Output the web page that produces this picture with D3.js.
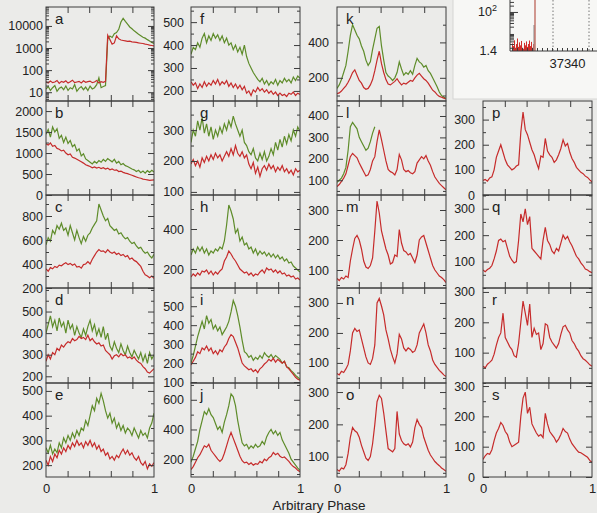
<!DOCTYPE html>
<html>
<head>
<meta charset="utf-8">
<script src="https://cdn.jsdelivr.net/npm/d3@7"></script>
<style>
  html, body { margin: 0; padding: 0; background: #ebebe9; }
  svg { display: block; font-family: "Liberation Sans", Arial, Helvetica, sans-serif; }
</style>
</head>
<body>
<svg id="chart" width="597" height="513"></svg>
<script>
/* global d3 */

// Phase histograms, 50 samples over [0, 1]. Green / red series per panel.
const N_BINS = 50;

const aGreen = [14,18,12,16,20,11,15,17,13,19,12,16,14,22,11,15,18,13,17,12,19,14,16,22,45,16,18,20,2500,3500,3000,4500,5000,7000,15000,22000,16000,12000,9000,7500,6000,5000,4200,3600,3100,2800,2400,2100,1800,1600];
const aRed = [30,26,32,27,29,34,25,31,28,33,26,30,35,27,29,31,26,33,28,30,32,27,29,34,26,30,28,31,3800,2400,1500,1700,3600,2600,2300,2200,2100,2000,2050,1900,1850,1800,1700,1650,1600,1500,1450,1350,1300,1250];

const bGreen = [1450,1560,1380,1620,1500,1580,1350,1420,1250,1380,1230,1300,1150,1200,1050,1100,930,980,860,820,780,740,800,760,820,780,850,800,870,830,790,850,760,800,720,750,700,680,650,620,600,560,590,530,570,520,580,540,590,550];
const bRed = [1220,1190,1240,1160,1180,1110,1090,1050,1070,1000,960,980,900,880,850,820,790,760,720,700,680,650,670,640,660,630,650,620,640,600,620,590,600,560,570,540,520,510,490,470,450,430,410,400,380,370,360,350,355,360];

const cGreen = [560,620,590,680,650,720,690,740,680,700,640,720,660,600,680,620,570,630,590,640,660,700,730,760,900,850,800,760,780,720,700,680,690,650,660,630,610,620,590,570,580,550,530,540,510,490,500,470,450,480];
const cRed = [360,340,370,360,380,370,390,385,400,410,395,405,390,400,375,380,365,395,400,420,400,440,470,500,520,505,510,495,520,500,490,500,480,490,470,480,460,470,440,450,430,420,400,380,340,310,300,285,300,280];

const dGreen = [400,440,480,430,460,410,470,430,450,400,460,420,440,390,430,400,380,420,390,430,460,410,440,390,420,380,430,370,400,340,320,360,330,310,350,320,300,340,310,290,320,300,280,310,270,300,260,310,280,300];
const dRed = [270,300,280,310,300,330,320,345,335,350,360,355,375,365,370,385,375,380,370,390,365,375,360,350,355,340,345,320,310,300,280,295,300,290,305,295,300,285,290,280,290,275,265,260,245,235,220,215,225,235];

const eGreen = [270,250,280,245,265,250,290,270,310,290,320,300,330,310,340,320,350,340,380,360,400,440,420,470,450,490,460,420,390,410,370,390,350,370,340,360,330,350,340,320,350,330,310,340,320,330,310,350,370,410];
const eRed = [220,200,235,215,245,230,260,245,270,255,280,265,290,275,300,280,290,270,295,280,300,275,290,265,280,255,265,240,250,225,235,220,240,230,250,265,245,260,240,250,230,220,235,210,200,215,185,205,195,210];

const fGreen = [360,390,380,410,390,430,450,410,440,420,450,430,445,420,440,410,430,400,410,380,400,370,390,360,400,350,320,300,280,265,250,240,255,230,245,225,240,230,250,225,245,235,255,240,250,235,260,245,265,255];
const fRed = [240,225,235,210,230,215,240,220,235,225,245,230,250,225,240,230,245,220,235,215,230,210,225,205,220,190,200,180,205,195,215,200,210,195,205,190,200,185,195,180,190,180,185,175,190,185,195,180,190,185];

const gGreen = [260,300,280,330,300,340,290,320,280,310,270,300,280,310,290,320,300,330,310,345,320,300,280,300,260,250,230,220,240,210,200,225,205,230,200,215,240,220,260,235,270,245,280,255,285,265,300,280,310,295];
const gRed = [190,205,185,200,180,210,195,215,200,220,205,225,210,220,200,215,230,215,240,220,250,225,215,230,210,220,190,175,195,160,180,150,175,185,170,190,175,185,165,180,170,185,165,175,160,170,155,175,165,170];

const hGreen = [270,300,280,310,290,310,280,300,270,290,280,300,290,310,300,340,420,520,490,450,380,400,340,360,320,330,300,310,280,300,270,290,275,285,265,280,260,275,255,270,250,260,240,250,230,235,215,205,195,185];
const hRed = [160,175,165,180,170,190,185,195,175,190,170,185,175,190,200,240,260,290,275,255,240,220,200,190,180,185,170,180,165,175,170,185,195,180,205,195,200,185,195,180,190,175,180,165,170,160,165,150,155,145];

const iGreen = [200,240,290,340,380,420,380,450,410,430,380,400,370,390,350,370,390,420,470,530,500,450,390,320,260,250,230,240,215,230,220,240,225,255,240,230,245,225,240,230,220,200,210,180,175,160,150,135,125,115];
const iRed = [190,210,230,260,250,280,270,290,265,280,250,265,245,270,260,285,300,330,350,340,310,280,240,200,185,175,165,170,155,165,150,170,180,195,205,220,210,225,205,220,210,200,210,180,170,155,140,125,115,110];

const jGreen = [180,220,270,320,400,460,520,500,540,500,480,440,400,420,380,450,500,560,640,620,560,460,380,310,290,300,270,290,275,300,280,290,320,300,350,380,400,370,390,360,380,330,300,270,240,200,180,160,140,125];
const jRed = [130,150,180,210,230,260,290,280,300,260,240,220,200,185,200,240,290,340,380,340,300,260,220,190,175,180,165,175,160,170,165,185,175,200,190,210,220,245,230,240,220,210,215,200,185,165,150,140,125,115];

const kGreen = [140,160,190,230,270,350,440,500,470,440,420,380,350,300,270,290,360,420,480,490,380,300,230,210,200,185,200,230,290,250,215,230,220,240,220,270,310,290,280,260,270,240,225,200,175,150,120,100,90,85];
const kRed = [110,115,125,140,155,175,200,230,245,215,185,170,145,135,140,160,190,240,300,350,280,230,190,165,160,170,180,195,175,160,170,165,175,185,180,200,215,225,210,195,185,170,150,130,120,105,95,90,85,80];

// the green sweep of panel l stops at about a third of the phase
const lGreen = [90,100,110,130,160,240,350,370,355,340,300,280,260,240,250,280,320,350];
const lRed = [70,80,95,110,130,170,210,225,215,205,180,160,140,120,125,150,190,210,280,335,290,240,190,150,140,135,125,150,220,195,150,140,145,135,130,140,180,195,210,200,215,190,170,140,115,100,85,75,65,55];

const mRed = [72,65,75,70,80,75,130,170,205,215,200,170,130,110,105,115,140,230,330,290,230,200,170,150,120,125,150,145,235,190,165,160,150,155,140,125,150,200,210,215,190,165,140,115,100,90,80,75,68,58];
const nRed = [65,60,72,68,80,95,140,200,215,205,210,180,150,120,100,95,115,160,300,315,290,260,210,180,145,120,100,130,195,180,150,140,150,145,135,140,160,200,215,230,200,160,140,110,95,85,75,68,60,55];
const oRed = [60,55,65,62,75,110,160,190,180,175,160,135,115,95,88,100,140,200,270,290,280,235,180,125,120,115,125,240,170,150,140,135,140,130,145,190,215,200,190,160,140,120,105,95,85,78,72,65,60,55];
const pRed = [58,62,55,68,72,100,150,175,200,170,140,120,110,100,105,115,120,250,330,260,240,210,180,160,130,105,155,150,225,175,160,150,130,140,160,185,220,195,205,170,145,130,110,100,90,85,75,70,60,52];
const qRed = [68,62,70,75,85,110,140,180,185,175,180,150,120,105,95,100,180,280,250,300,240,270,150,140,130,120,110,180,230,180,165,140,130,150,140,170,200,185,195,175,160,140,120,110,95,85,72,68,62,58];
const rRed = [55,50,62,68,75,95,125,150,165,230,150,135,120,110,90,85,130,200,270,230,190,260,150,180,160,165,110,130,195,190,150,135,125,115,130,160,185,190,175,165,140,130,115,105,90,80,75,68,60,55];
const sRed = [58,70,78,75,90,120,145,160,180,170,150,140,115,100,105,110,115,200,260,280,210,230,175,160,145,135,140,130,210,175,150,140,130,115,125,140,160,150,145,125,110,100,90,82,80,75,70,65,55,48];

// y tick labels per panel
const aTicks = [10, 100, 1000, 10000];
const bTicks = [0, 500, 1000, 1500, 2000];
const cTicks = [200, 400, 600, 800];
const dTicks = [200, 300, 400, 500];
const eTicks = [200, 300, 400, 500];
const fTicks = [200, 300, 400, 500];
const gTicks = [100, 200, 300];
const hTicks = [200, 400];
const iTicks = [100, 200, 300, 400, 500];
const jTicks = [200, 400, 600];
const kTicks = [200, 400];
const lTicks = [100, 200, 300, 400];
const mTicks = [100, 200, 300];
const nTicks = [100, 200, 300];
const oTicks = [100, 200, 300];
const pTicks = [0, 100, 200, 300];
const qTicks = [100, 200, 300];
const rTicks = [100, 200, 300];
const sTicks = [0, 100, 200, 300];

const phaseTicks = [0.2, 0.4, 0.6, 0.8];
const phaseLabels = [0, 1];

// inset: counts near channel 37340
const insetChannels = [37230,37232,37234,37236,37238,37240,37242,37244,37246,37248,37250,37252,37254,37256,37258,37260,37262,37264,37266,37268,37270,37272];
const insetCounts = [3.2,2.4,4.5,2.0,3.0,5.5,2.2,3.6,2.6,4.2,2.0,1.8,3.4,2.6,4.0,2.2,3.0,4.4,2.4,3.8,2.0,3.0];
const insetSpikes = [
  { ch: 37274, v: 24, color: "#9a9a9a" },
  { ch: 37276, v: 20000, color: "#b8584c" },
];
const insetMarkers = [37312, 37384];
const insetYTicks = [1.4, 100];

// ---- layout ----
const colX = [[46, 154], [191, 300], [337, 446], [483, 592]];
const rowY = [[7, 101], [101, 195], [195, 288], [288, 383], [383, 477]];
const labelPad = [3, 7, 8, 8];

const GREEN = "#5e8c2a";
const RED = "#c62b2b";
const INK = "#222";
const FRAME = "#3c3c3c";
const TICK_FONT = 12.5;

const panels = [
  { id: "a", col: 0, row: 0, green: aGreen, red: aRed, domain: [4, 72000], log: true, ticks: aTicks },
  { id: "b", col: 0, row: 1, green: bGreen, red: bRed, domain: [0, 2240], ticks: bTicks },
  { id: "c", col: 0, row: 2, green: cGreen, red: cRed, domain: [200, 975], ticks: cTicks },
  { id: "d", col: 0, row: 3, green: dGreen, red: dRed, domain: [169, 609], ticks: dTicks },
  { id: "e", col: 0, row: 4, green: eGreen, red: eRed, domain: [152, 532], ticks: eTicks },
  { id: "f", col: 1, row: 0, green: fGreen, red: fRed, domain: [156, 566], ticks: fTicks },
  { id: "g", col: 1, row: 1, green: gGreen, red: gRed, domain: [90, 394], ticks: gTicks },
  { id: "h", col: 1, row: 2, green: hGreen, red: hRed, domain: [105, 570], ticks: hTicks },
  { id: "i", col: 1, row: 3, green: iGreen, red: iRed, domain: [95, 596], ticks: iTicks },
  { id: "j", col: 1, row: 4, green: jGreen, red: jRed, domain: [80, 713], ticks: jTicks },
  { id: "k", col: 2, row: 0, green: kGreen, red: kRed, domain: [69, 600], ticks: kTicks },
  { id: "l", col: 2, row: 1, green: lGreen, red: lRed, domain: [31, 470], ticks: lTicks },
  { id: "m", col: 2, row: 2, red: mRed, domain: [40, 350], ticks: mTicks },
  { id: "n", col: 2, row: 3, red: nRed, domain: [33, 350], ticks: nTicks },
  { id: "o", col: 2, row: 4, red: oRed, domain: [37, 328], ticks: oTicks },
  { id: "p", col: 3, row: 1, red: pRed, domain: [0, 374], ticks: pTicks },
  { id: "q", col: 3, row: 2, red: qRed, domain: [0, 352], ticks: qTicks },
  { id: "r", col: 3, row: 3, red: rRed, domain: [0, 313], ticks: rTicks },
  { id: "s", col: 3, row: 4, red: sRed, domain: [0, 310], ticks: sTicks },
];

const svg = d3.select("#chart");
const defs = svg.append("defs");

function minorTicks(p) {
  if (p.log) {
    const out = [];
    for (let e = 0; e <= 4; e++) {
      for (let m = 2; m <= 9; m++) {
        const v = m * 10 ** e;
        if (v > p.domain[0] && v < p.domain[1]) out.push(v);
      }
    }
    return out;
  }
  const step = (p.ticks[1] - p.ticks[0]) / 2;
  const out = [];
  const start = Math.ceil(p.domain[0] / step) * step;
  for (let v = start; v < p.domain[1]; v += step) {
    if (!p.ticks.includes(v)) out.push(v);
  }
  return out;
}

// sample i sits at phase i / (N - 1)
function toPoints(arr) {
  return arr.map((v, i) => [i / (N_BINS - 1), v]);
}

function styleAxis(g) {
  g.select(".domain").remove();
  g.selectAll(".tick line").attr("stroke", FRAME).attr("stroke-width", 1);
  g.selectAll(".tick text").attr("fill", INK).attr("font-size", TICK_FONT);
}

panels.forEach((p) => {
  const [x0, x1] = colX[p.col];
  const [y0, y1] = rowY[p.row];
  const x = d3.scaleLinear().domain([0, 1]).range([x0, x1]);
  const y = (p.log ? d3.scaleLog() : d3.scaleLinear()).domain(p.domain).range([y1, y0]);

  const g = svg.append("g").attr("class", "panel-" + p.id);

  defs.append("clipPath").attr("id", "clip-" + p.id)
    .append("rect").attr("x", x0).attr("y", y0).attr("width", x1 - x0).attr("height", y1 - y0);

  const line = d3.line()
    .x((d) => x(d[0]))
    .y((d) => y(Math.max(d[1], p.domain[0])));

  const plot = g.append("g").attr("clip-path", `url(#clip-${p.id})`);
  if (p.green) {
    plot.append("path").attr("d", line(toPoints(p.green)))
      .attr("fill", "none").attr("stroke", GREEN).attr("stroke-width", 1.2)
      .attr("stroke-linejoin", "miter");
  }
  plot.append("path").attr("d", line(toPoints(p.red)))
    .attr("fill", "none").attr("stroke", RED).attr("stroke-width", 1.2)
    .attr("stroke-linejoin", "miter");

  // y axes, ticks inward
  const fmt = d3.format("d");
  g.append("g").attr("transform", `translate(${x0},0)`)
    .call(d3.axisLeft(y).tickValues(p.ticks).tickFormat(fmt).tickSizeInner(-6).tickSizeOuter(0).tickPadding(labelPad[p.col]))
    .call(styleAxis);
  g.append("g").attr("transform", `translate(${x0},0)`)
    .call(d3.axisLeft(y).tickValues(minorTicks(p)).tickFormat("").tickSizeInner(-3).tickSizeOuter(0))
    .call(styleAxis);
  g.append("g").attr("transform", `translate(${x1},0)`)
    .call(d3.axisRight(y).tickValues(p.ticks).tickFormat("").tickSizeInner(-6).tickSizeOuter(0))
    .call(styleAxis);
  g.append("g").attr("transform", `translate(${x1},0)`)
    .call(d3.axisRight(y).tickValues(minorTicks(p)).tickFormat("").tickSizeInner(-3).tickSizeOuter(0))
    .call(styleAxis);

  // phase ticks on top and bottom edges
  g.append("g").attr("transform", `translate(0,${y0})`)
    .call(d3.axisTop(x).tickValues(phaseTicks).tickFormat("").tickSizeInner(-6).tickSizeOuter(0))
    .call(styleAxis);
  g.append("g").attr("transform", `translate(0,${y1})`)
    .call(d3.axisBottom(x).tickValues(phaseTicks).tickFormat("").tickSizeInner(-6).tickSizeOuter(0))
    .call(styleAxis);

  if (p.row === 4) {
    g.append("g").attr("transform", `translate(0,${y1})`)
      .call(d3.axisBottom(x).tickValues(phaseLabels).tickFormat(d3.format("d")).tickSize(0).tickPadding(7))
      .call(styleAxis)
      .call((ax) => ax.selectAll(".tick text").attr("font-size", 13));
  }

  g.append("rect")
    .attr("x", x0).attr("y", y0).attr("width", x1 - x0).attr("height", y1 - y0)
    .attr("fill", "none").attr("stroke", FRAME).attr("stroke-width", 1);

  g.append("text")
    .attr("x", x0 + 9).attr("y", y0 + 17)
    .attr("font-size", 15).attr("fill", INK)
    .text(p.id);
});

svg.append("text")
  .attr("x", 319).attr("y", 510)
  .attr("text-anchor", "middle")
  .attr("font-size", 13.5).attr("fill", INK)
  .text("Arbitrary Phase");

// ---- inset (top right) ----
const inset = svg.append("g").attr("class", "inset");
inset.append("rect")
  .attr("x", 453).attr("y", -1).attr("width", 146).attr("height", 100)
  .attr("fill", "#f7f7f5").attr("stroke", "#d6d6d4");

const ix = d3.scaleLinear().domain([37226, 37400]).range([510, 597]);
const iy = d3.scaleLog().domain([1.4, 370]).range([51, 0]);

defs.append("clipPath").attr("id", "clip-inset")
  .append("rect").attr("x", 510).attr("y", 0).attr("width", 87).attr("height", 51);
const iplot = inset.append("g").attr("clip-path", "url(#clip-inset)");

iplot.selectAll("rect.bar").data(insetChannels).join("rect")
  .attr("class", "bar")
  .attr("x", (c) => ix(c))
  .attr("width", (c) => ix(c + 2) - ix(c))
  .attr("y", (c, i) => iy(insetCounts[i]))
  .attr("height", (c, i) => iy(1.4) - iy(insetCounts[i]))
  .attr("fill", "#d0302c");

iplot.selectAll("line.spike").data(insetSpikes).join("line")
  .attr("class", "spike")
  .attr("x1", (d) => ix(d.ch)).attr("x2", (d) => ix(d.ch))
  .attr("y1", iy(1.4)).attr("y2", (d) => iy(Math.min(d.v, 370)))
  .attr("stroke", (d) => d.color).attr("stroke-width", 1.2);

iplot.selectAll("line.marker").data(insetMarkers).join("line")
  .attr("class", "marker")
  .attr("x1", (c) => ix(c)).attr("x2", (c) => ix(c))
  .attr("y1", 0).attr("y2", iy(1.4))
  .attr("stroke", "#777").attr("stroke-width", 1).attr("stroke-dasharray", "1.5,2");

const insetMinor = [];
for (const e of [0, 1, 2]) {
  for (let m = 2; m <= 9; m++) {
    const v = m * 10 ** e;
    if (v > 1.4 && v < 370 && v !== 100) insetMinor.push(v);
  }
}

inset.append("g").attr("transform", "translate(510,0)")
  .call(d3.axisLeft(iy).tickValues(insetMinor).tickFormat("").tickSizeInner(-4).tickSizeOuter(0))
  .call(styleAxis);
inset.append("g").attr("transform", "translate(510,0)")
  .call(d3.axisLeft(iy).tickValues([100]).tickFormat("").tickSizeInner(-8).tickSizeOuter(0))
  .call(styleAxis);
inset.append("line")
  .attr("x1", 510).attr("x2", 510).attr("y1", 0).attr("y2", 51)
  .attr("stroke", FRAME);

inset.selectAll("text.ylab").data(insetYTicks).join("text")
  .attr("class", "ylab")
  .attr("x", 497).attr("y", (v) => iy(v) + 4)
  .attr("text-anchor", "end").attr("font-size", 12.5).attr("fill", INK)
  .each(function (v) {
    const t = d3.select(this);
    if (v === 100) {
      t.text("10");
      t.append("tspan").attr("dy", -5).attr("font-size", 9).text("2");
    } else {
      t.text(d3.format(".1f")(v));
    }
  });

inset.append("g").attr("transform", "translate(0,51)")
  .call(d3.axisBottom(ix).tickValues(d3.range(37230, 37401, 10))
    .tickFormat((c) => (c === 37340 ? String(c) : ""))
    .tickSizeInner(-3).tickSizeOuter(0).tickPadding(8))
  .call(styleAxis)
  .call((ax) => ax.selectAll(".tick text").attr("font-size", 13));
inset.append("line")
  .attr("x1", 510).attr("x2", 597).attr("y1", 51).attr("y2", 51)
  .attr("stroke", FRAME);
</script>
</body>
</html>
